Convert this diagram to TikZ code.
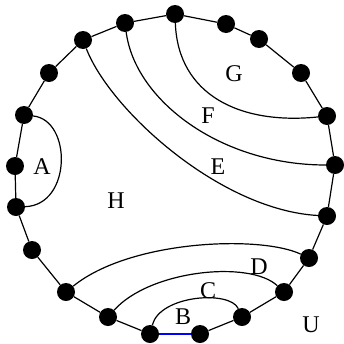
\documentclass[tikz,border=0pt]{standalone}
\usepackage{fontspec}
\setmainfont{Liberation Serif}
\begin{document}
\begin{tikzpicture}[x=1pt,y=-1pt,
  dot/.style={circle,fill=black,inner sep=0pt,minimum size=18pt},
  edge/.style={line width=1.2pt,black},
  lbl/.style={font=\fontsize{24}{24}\selectfont,inner sep=0pt}]
\useasboundingbox (0,0) rectangle (344,343);
\node[dot] (n1) at (175,14) {};
\node[dot] (n2) at (226,24) {};
\node[dot] (n3) at (259,39) {};
\node[dot] (n4) at (301,73) {};
\node[dot] (n5) at (327,116) {};
\node[dot] (n6) at (335,165) {};
\node[dot] (n7) at (327,216) {};
\node[dot] (n8) at (309,258) {};
\node[dot] (n9) at (284,292) {};
\node[dot] (n10) at (242,317) {};
\node[dot] (n11) at (200,334) {};
\node[dot] (n12) at (150,334) {};
\node[dot] (n13) at (108,317) {};
\node[dot] (n14) at (66,292) {};
\node[dot] (n15) at (32,250) {};
\node[dot] (n16) at (16,207) {};
\node[dot] (n17) at (15,166) {};
\node[dot] (n18) at (24,115) {};
\node[dot] (n19) at (49,73) {};
\node[dot] (n20) at (83,40) {};
\node[dot] (n21) at (125,23) {};
\draw[edge] (n1)--(n2) (n2)--(n3) (n3)--(n4) (n4)--(n5) (n5)--(n6) (n6)--(n7)
  (n7)--(n8) (n8)--(n9) (n9)--(n10) (n10)--(n11) (n12)--(n13) (n13)--(n14)
  (n14)--(n15) (n15)--(n16) (n16)--(n17) (n17)--(n18) (n18)--(n19) (n19)--(n20)
  (n20)--(n21) (n21)--(n1);
\draw[edge,blue] (n11)--(n12);
% chords
\draw[edge] (n18) .. controls (72,120) and (72,205) .. (n16);
\draw[edge] (n1) .. controls (178,95) and (240,125) .. (n5);
\draw[edge] (n21) .. controls (135,100) and (220,165) .. (n6);
\draw[edge] (n20) .. controls (110,110) and (220,210) .. (n7);
\draw[edge] (n14) .. controls (130,240) and (260,235) .. (n8);
\draw[edge] (n13) .. controls (150,270) and (250,260) .. (n9);
\draw[edge] (n12) .. controls (160,295) and (230,290) .. (n10);
% labels
\node[lbl] (la) at (42,167) {A};
\node[lbl] (lg) at (234,74) {G};
\node[lbl] (lf) at (208,116) {F};
\node[lbl] (le) at (218,167) {E};
\node[lbl] (lh) at (116,201) {H};
\node[lbl] (ld) at (259,267) {D};
\node[lbl] (lc) at (208,291) {C};
\node[lbl] (lb) at (183,317) {B};
\node[lbl] (lu) at (311,325) {U};
\end{tikzpicture}
\end{document}
